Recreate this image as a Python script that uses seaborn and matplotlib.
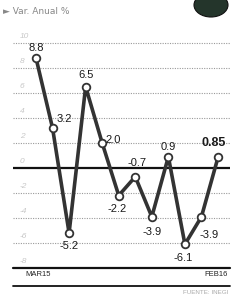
import matplotlib
matplotlib.use("Agg")
import matplotlib.pyplot as plt
import seaborn as sns
import pandas as pd
from matplotlib.patches import Ellipse

months = ["MAR15", "ABR15", "MAY15", "JUN15", "JUL15", "AGO15",
          "SEP15", "OCT15", "NOV15", "DIC15", "ENE16", "FEB16"]
values = [8.8, 3.2, -5.2, 6.5, 2.0, -2.2, -0.7, -3.9, 0.9, -6.1, -3.9, 0.85]
labels = ["8.8", "3.2", "-5.2", "6.5", "2.0", "-2.2", "-0.7", "-3.9", "0.9", "-6.1", "-3.9", "0.85"]
yticks = [10, 8, 6, 4, 2, 0, -2, -4, -6, -8]

# label offsets in pixels (dx, dy up)
label_off = [(0, 10), (12, 9), (0, -13), (0, 12), (11, 3), (-2, -13),
             (2, 14), (0, -15), (0, 10), (-2, -14), (8, -18), (-4, 14)]

df = pd.DataFrame({"x": range(len(values)), "y": values})

sns.set_style("white")
plt.rcParams["font.family"] = ["Liberation Sans Narrow", "Liberation Sans", "DejaVu Sans"]

W, H = 241, 299
fig = plt.figure(figsize=(W / 100, H / 100), dpi=100)
ax = fig.add_axes([13 / W, 1 - 268 / H, 217 / W, 228 / H])

sp = 16.55
ax.set_xlim(-23 / sp, 11 + 12 / sp)
ax.set_ylim(-8, 10 + 3 / 12.5)

for t in yticks:
    if t == 0 or t == -8:
        continue
    ax.axhline(t, color="#9a9a9a", lw=0.8, ls=(0, (1, 1.2)), zorder=1)
    ax.annotate(str(t), (-23 / sp, t), xytext=(5, 2.5), textcoords="offset points",
                fontsize=6, color="#c8c8c8", style="italic", va="bottom", ha="left")
ax.annotate("0", (-23 / sp, 0), xytext=(5, 2.5), textcoords="offset points",
            fontsize=6, color="#c8c8c8", style="italic", va="bottom", ha="left")
ax.annotate("-8", (-23 / sp, -8), xytext=(5, 2.5), textcoords="offset points",
            fontsize=6, color="#c8c8c8", style="italic", va="bottom", ha="left")
ax.axhline(0, color="#111111", lw=1.6, zorder=2)
ax.axhline(-8, color="#111111", lw=1.6, zorder=2, clip_on=False)

sns.lineplot(data=df, x="x", y="y", ax=ax, color="#333333", lw=2.6,
             marker="o", markersize=5.5, markerfacecolor="white",
             markeredgecolor="#333333", markeredgewidth=1.3, zorder=3)

for i, (v, lab, off) in enumerate(zip(values, labels, label_off)):
    last = i == len(values) - 1
    ax.annotate(lab, (i, v), xytext=(off[0] * 0.72, off[1] * 0.72),
                textcoords="offset points", ha="center", va="center",
                fontsize=9 if last else 8, fontweight="bold" if last else "normal",
                color="#1a1a1a", zorder=4)

for s in ax.spines.values():
    s.set_visible(False)
ax.set_xticks([])
ax.set_yticks([])
ax.set_xlabel("")
ax.set_ylabel("")

fig.text(25 / W, 1 - 275 / H, months[0], fontsize=5.5, color="#222222", va="center", ha="left")
fig.text(228 / W, 1 - 275 / H, months[-1], fontsize=5.5, color="#222222", va="center", ha="right")
fig.add_artist(plt.Line2D([13 / W, 230 / W], [1 - 286 / H, 1 - 286 / H],
                          color="#111111", lw=1.3, transform=fig.transFigure))
fig.text(228 / W, 1 - 293 / H, "FUENTE: INEGI", fontsize=4.5, color="#aaaaaa", va="center", ha="right")
fig.text(3 / W, 1 - 12 / H, "\u25ba Var. Anual %", fontsize=6.5, color="#888888", va="center", ha="left",
         family=["Liberation Sans Narrow", "DejaVu Sans"])
fig.add_artist(Ellipse((211 / W, 1 - 5 / H), 34 / W, 24 / H, transform=fig.transFigure,
                       facecolor="#24352b", edgecolor="#111111", lw=0.8))

fig.savefig("out.png", dpi=100)
